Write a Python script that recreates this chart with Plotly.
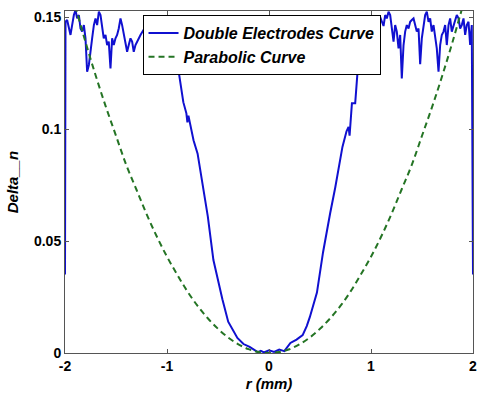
import plotly.graph_objects as go

# Double Electrodes Curve
blue_x = [-2.0, -1.995, -1.979, -1.963, -1.946, -1.930, -1.913, -1.897, -1.881, -1.864, -1.848,
          -1.832, -1.815, -1.799, -1.783, -1.766, -1.750, -1.734, -1.717, -1.701, -1.685,
          -1.668, -1.652, -1.636, -1.620, -1.603, -1.587, -1.571, -1.554, -1.538, -1.522,
          -1.505, -1.489, -1.473, -1.456, -1.440, -1.424, -1.407, -1.391, -1.375, -1.358,
          -1.342, -1.326, -1.309, -1.293, -1.260, -1.22, -1.18, -1.14, -1.10, -1.06, -1.02,
          -0.98, -0.95, -0.93, -0.918, -0.90, -0.87, -0.84, -0.81, -0.80, -0.79, -0.74, -0.70,
          -0.65, -0.60, -0.545, -0.50, -0.457, -0.40, -0.31, -0.25, -0.19, -0.11, -0.08,
          -0.05, 0.0, 0.05, 0.10, 0.15, 0.21, 0.27, 0.33, 0.37, 0.40, 0.47, 0.53, 0.60, 0.65,
          0.72, 0.76, 0.78, 0.79, 0.813, 0.845, 0.877, 0.911, 0.95, 0.98, 1.009, 1.03, 1.06,
          1.09, 1.123, 1.139, 1.155, 1.172, 1.188, 1.204, 1.221, 1.237, 1.253, 1.270, 1.286,
          1.302, 1.319, 1.335, 1.351, 1.368, 1.384, 1.400, 1.417, 1.433, 1.449, 1.466, 1.482,
          1.498, 1.515, 1.531, 1.547, 1.564, 1.580, 1.596, 1.613, 1.629, 1.645, 1.662, 1.678,
          1.694, 1.711, 1.727, 1.743, 1.760, 1.776, 1.792, 1.809, 1.825, 1.841, 1.858, 1.874,
          1.890, 1.907, 1.923, 1.939, 1.956, 1.972, 1.988, 2.0]
blue_y = [0.035, 0.148, 0.1487, 0.1449, 0.1420, 0.1464, 0.1509, 0.1531, 0.1494, 0.1509, 0.1449,
          0.1435, 0.1464, 0.1405, 0.1256, 0.1286, 0.1360, 0.1405, 0.1464, 0.1494, 0.1464,
          0.1524, 0.1509, 0.1464, 0.1405, 0.1420, 0.1375, 0.1390, 0.1271, 0.1405, 0.1375,
          0.1405, 0.1420, 0.1449, 0.1494, 0.1464, 0.1420, 0.1390, 0.1345, 0.1375, 0.1405,
          0.1390, 0.1345, 0.1375, 0.1390, 0.1420, 0.145, 0.140, 0.146, 0.142, 0.148, 0.144,
          0.150, 0.147, 0.140, 0.134, 0.130, 0.120, 0.112, 0.107, 0.103, 0.106, 0.095, 0.089,
          0.075, 0.061, 0.0415, 0.032, 0.024, 0.014, 0.0067, 0.004, 0.0027, 0.0004, 0.001,
          0.0003, 0.0012, 0.0005, 0.0015, 0.0008, 0.0045, 0.006, 0.008, 0.012, 0.016, 0.027,
          0.045, 0.0625, 0.074, 0.092, 0.099, 0.101, 0.097, 0.1115, 0.1115, 0.131, 0.150,
          0.146, 0.150, 0.129, 0.148, 0.144, 0.150, 0.146, 0.1509, 0.1494, 0.1524, 0.1509,
          0.1449, 0.1390, 0.1464, 0.1435, 0.1360, 0.1420, 0.1226, 0.1375, 0.1435, 0.1464,
          0.1449, 0.1479, 0.1487, 0.1494, 0.1464, 0.1435, 0.1449, 0.1290, 0.1405, 0.1464,
          0.1509, 0.1524, 0.1479, 0.1494, 0.1435, 0.1464, 0.1420, 0.1360, 0.1256, 0.1375,
          0.1420, 0.1435, 0.1464, 0.1375, 0.1464, 0.1494, 0.1435, 0.1464, 0.1479, 0.1509,
          0.1494, 0.1449, 0.1464, 0.1494, 0.1420, 0.1464, 0.1479, 0.1375, 0.1464, 0.035]

# Parabolic Curve
green_x = [-1.9, -1.8, -1.7, -1.6, -1.5, -1.4, -1.3, -1.2, -1.1, -1.0, -0.9, -0.8, -0.7, -0.6,
           -0.5, -0.4, -0.3, -0.2, -0.1, 0.0, 0.1, 0.2, 0.3, 0.4, 0.5, 0.6, 0.7, 0.8, 0.9, 1.0,
           1.1, 1.2, 1.3, 1.4, 1.5, 1.6, 1.7, 1.8, 1.9]
green_y = [0.155, 0.139, 0.124, 0.110, 0.097, 0.084, 0.073, 0.062, 0.052, 0.043, 0.035, 0.0275,
           0.021, 0.0155, 0.0108, 0.0069, 0.0039, 0.0017, 0.0004, 0.0, 0.0004, 0.0017, 0.0039,
           0.0069, 0.0108, 0.0155, 0.021, 0.0275, 0.035, 0.043, 0.052, 0.062, 0.073, 0.084,
           0.097, 0.110, 0.124, 0.139, 0.155]

x_ticks = [-2, -1, 0, 1, 2]
x_tick_labels = ["-2", "-1", "0", "1", "2"]
y_ticks = [0, 0.05, 0.1, 0.15]
y_tick_labels = ["0", "0.05", "0.1", "0.15"]

FONT = "Liberation Sans"

fig = go.Figure()
fig.add_trace(go.Scatter(x=blue_x, y=blue_y, mode="lines", name="Double Electrodes Curve",
                         line=dict(color="#1010d0", width=2)))
fig.add_trace(go.Scatter(x=green_x, y=green_y, mode="lines", name="Parabolic Curve",
                         line=dict(color="#247424", width=2, dash="6px,4px", shape="spline")))

axis_common = dict(showline=True, linecolor="#555555", linewidth=1, mirror="ticks",
                   ticks="inside", ticklen=4, tickcolor="#555555", showgrid=False,
                   zeroline=False, automargin=False, ticklabeloverflow="allow",
                   tickfont=dict(family=FONT, size=14, color="black", weight="bold"))

fig.update_xaxes(range=[-2, 2], tickvals=x_ticks, ticktext=x_tick_labels,
                 title=dict(text="r (mm)", standoff=5,
                            font=dict(family=FONT, size=15, color="black", weight="bold",
                                      style="italic")),
                 **axis_common)
fig.update_yaxes(range=[0, 0.1527], tickvals=y_ticks, ticktext=y_tick_labels,
                 title=dict(text="Delta__n", standoff=11,
                            font=dict(family=FONT, size=15, color="black", weight="bold",
                                      style="italic")),
                 **axis_common)

fig.update_layout(
    width=477, height=396,
    margin=dict(l=65, r=4, t=11, b=43),
    paper_bgcolor="white", plot_bgcolor="white",
    showlegend=True,
    legend=dict(x=0.19, y=0.988, xanchor="left", yanchor="top",
                bgcolor="white", bordercolor="black", borderwidth=1,
                font=dict(family=FONT, size=16, color="black", weight="bold", style="italic"),
                tracegroupgap=0, itemwidth=30),
)

fig.write_html("out.html", config={"displayModeBar": False},
               post_script="document.body.style.margin='0';")
